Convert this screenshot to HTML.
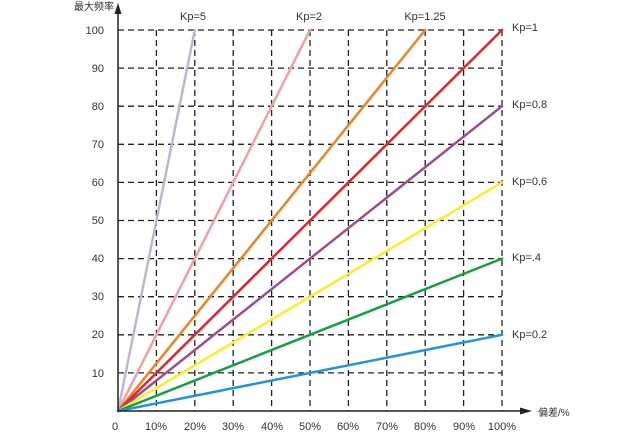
<!DOCTYPE html>
<html><head><meta charset="utf-8"><style>body{margin:0;background:#fff}</style></head><body>
<svg width="640" height="430" xmlns="http://www.w3.org/2000/svg" font-family="Liberation Sans, Noto Sans CJK SC, sans-serif" font-size="11" fill="#333">
<g stroke="#222" stroke-width="1.3" stroke-dasharray="6,4">
<line x1="118" y1="30" x2="502" y2="30"/><line x1="118" y1="68.1" x2="502" y2="68.1"/><line x1="118" y1="106.2" x2="502" y2="106.2"/><line x1="118" y1="144.3" x2="502" y2="144.3"/><line x1="118" y1="182.4" x2="502" y2="182.4"/><line x1="118" y1="220.5" x2="502" y2="220.5"/><line x1="118" y1="258.6" x2="502" y2="258.6"/><line x1="118" y1="296.7" x2="502" y2="296.7"/><line x1="118" y1="334.8" x2="502" y2="334.8"/><line x1="118" y1="372.9" x2="502" y2="372.9"/>
<line x1="156.4" y1="30" x2="156.4" y2="411"/><line x1="194.8" y1="30" x2="194.8" y2="411"/><line x1="233.2" y1="30" x2="233.2" y2="411"/><line x1="271.6" y1="30" x2="271.6" y2="411"/><line x1="310" y1="30" x2="310" y2="411"/><line x1="348.4" y1="30" x2="348.4" y2="411"/><line x1="386.8" y1="30" x2="386.8" y2="411"/><line x1="425.2" y1="30" x2="425.2" y2="411"/><line x1="463.6" y1="30" x2="463.6" y2="411"/><line x1="502" y1="30" x2="502" y2="411"/>
</g>
<g stroke-width="2.5" stroke-linecap="round">
<line x1="118" y1="411" x2="194.8" y2="30" stroke="#bab6da"/>
<line x1="118" y1="411" x2="310" y2="30" stroke="#f0a0a4"/>
<line x1="118" y1="411" x2="425.2" y2="30" stroke="#f08224"/>
<line x1="118" y1="411" x2="502" y2="30" stroke="#e0262a"/>
<line x1="118" y1="411" x2="502" y2="106.2" stroke="#a04c8c"/>
<line x1="118" y1="411" x2="502" y2="182.4" stroke="#f8f024"/>
<line x1="118" y1="411" x2="502" y2="258.6" stroke="#14a044"/>
<line x1="118" y1="411" x2="502" y2="334.8" stroke="#2094dc"/>
</g>
<g stroke="#222" stroke-width="1.5">
<line x1="118" y1="411" x2="118" y2="12"/><line x1="118" y1="411" x2="522" y2="411"/>
</g>
<polygon points="118,3 114.5,14 121.5,14" fill="#222"/>
<polygon points="532,411 520,407.5 520,414.5" fill="#222"/>
<g text-anchor="end">
<text x="104" y="34">100</text><text x="104" y="72">90</text><text x="104" y="110">80</text><text x="104" y="148">70</text><text x="104" y="186">60</text><text x="104" y="224">50</text><text x="104" y="262">40</text><text x="104" y="300">30</text><text x="104" y="338">20</text><text x="104" y="377">10</text>
<text x="114" y="10" font-size="10">最大频率</text>
</g>
<g text-anchor="middle">
<text x="115" y="430">0</text><text x="156" y="430">10%</text><text x="195" y="430">20%</text><text x="233" y="430">30%</text><text x="272" y="430">40%</text><text x="310" y="430">50%</text><text x="348" y="430">60%</text><text x="387" y="430">70%</text><text x="425" y="430">80%</text><text x="464" y="430">90%</text><text x="502" y="430">100%</text>
<text x="193" y="20">Kp=5</text><text x="309" y="20">Kp=2</text><text x="425" y="20">Kp=1.25</text>
</g>
<text x="512" y="31">Kp=1</text><text x="512" y="108">Kp=0.8</text><text x="512" y="185">Kp=0.6</text><text x="512" y="261">Kp=.4</text><text x="512" y="338">Kp=0.2</text>
<text x="538" y="416" font-size="10">偏差/%</text>
</svg>
</body></html>
